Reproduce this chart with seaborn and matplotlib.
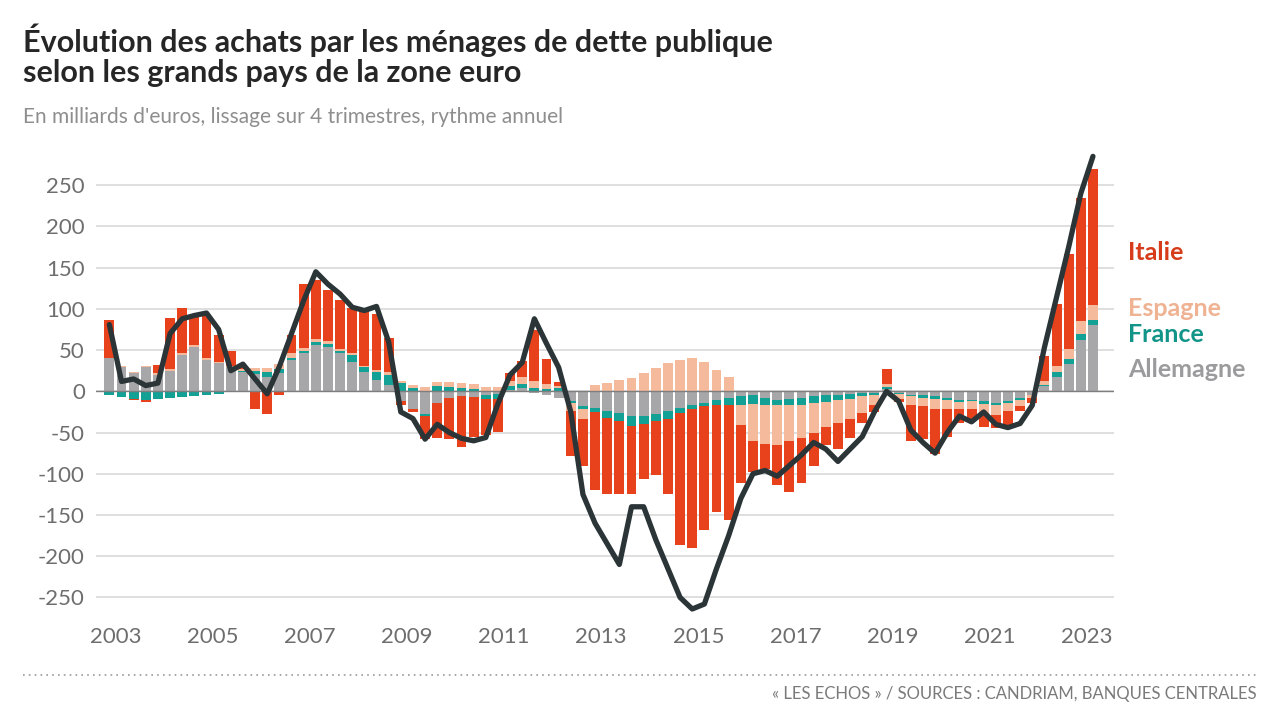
import numpy as np
import pandas as pd
import matplotlib
matplotlib.use("Agg")
import matplotlib.pyplot as plt
from matplotlib.lines import Line2D
import seaborn as sns

# ---------------- data (milliards d'euros, lissage 4 trimestres) ----------------
quarters = pd.period_range("2002Q4", "2023Q1", freq="Q")

allemagne = [40, 30, 22, 30, 20, 25, 44, 54, 38, 34,
             29, 24, 21, 17, 22, 38, 46, 56, 54, 46,
             36, 24, 14, 8, -12, -22, -28, -14, -8, -6,
             -7, -5, -3, 2, 4, -2, -4, -8, -12, -18,
             -20, -24, -26, -30, -30, -28, -24, -20, -16, -14,
             -10, -8, -6, -5, -8, -10, -9, -8, -6, -5,
             -4, -3, -2, -2, 3, -2, -4, -5, -6, -8,
             -10, -10, -12, -14, -12, -8, -4, 6, 18, 33,
             62, 80]

france = [-5, -7, -9, -10, -9, -8, -7, -6, -5, -3,
          -1, 1, 4, 6, 5, 3, 3, 4, 4, 3,
          8, 5, 10, 12, 10, 4, -2, 6, 5, 4,
          3, -4, -6, 4, 5, 4, 3, 4, -2, -4,
          -5, -8, -10, -12, -10, -8, -10, -6, -6, -4,
          -6, -8, -10, -10, -8, -7, -7, -8, -8, -8,
          -6, -6, -4, -3, 2, -1, -2, -3, -3, -3,
          -3, -2, -3, -3, -2, -2, 1, 2, 5, 6,
          8, 7]

espagne = [0, 1, 1, 1, 2, 2, 2, 2, 3, 2,
           2, 2, 3, 5, 6, 5, 3, 3, 3, 2,
           2, 2, 2, 3, 3, 4, 5, 5, 6, 6,
           6, 5, 5, 6, 8, 8, 6, 3, -10, -12,
           8, 10, 14, 16, 22, 28, 34, 38, 40, 36,
           26, 18, -25, -45, -48, -48, -44, -40, -36, -30,
           -28, -25, -20, -12, 4, -6, -10, -10, -12, -10,
           -8, -10, -12, -12, -10, -8, -4, 5, 8, 12,
           15, 18]

italie = [46, 0, -2, -3, 10, 62, 55, 35, 50, 32,
          18, 4, -21, -27, -4, 22, 78, 72, 62, 60,
          55, 66, 68, 42, -5, -3, -28, -42, -50, -62,
          -48, -44, -40, 10, 20, 62, 30, 4, -55, -56,
          -95, -92, -88, -82, -66, -66, -90, -160, -168, -150,
          -130, -140, -70, -38, -30, -48, -62, -55, -40, -22,
          -32, -22, -12, -8, 18, -4, -44, -40, -55, -34,
          -18, -14, -16, -16, -20, -6, -6, 30, 75, 115,
          150, 165]

total = [81, 12, 15, 7, 10, 70, 88, 92, 95, 75,
         25, 33, 15, -3, 30, 70, 110, 145, 130, 118,
         102, 98, 103, 60, -25, -33, -58, -40, -50, -57,
         -60, -56, -15, 20, 35, 88, 58, 29, -25, -125,
         -160, -185, -210, -140, -140, -180, -215, -250, -264, -258,
         -215, -175, -130, -100, -96, -103, -90, -77, -62, -70,
         -85, -70, -55, -25, 0, -12, -47, -62, -75, -50,
         -30, -37, -25, -40, -44, -39, -17, 53, 114, 175,
         240, 285]

countries = ["Allemagne", "France", "Espagne", "Italie"]
y_ticks = list(range(-250, 251, 50))
x_ticks = list(range(2003, 2024, 2))

title = ("Évolution des achats par les ménages de dette publique\n"
         "selon les grands pays de la zone euro")
subtitle = "En milliards d'euros, lissage sur 4 trimestres, rythme annuel"
source = "« LES ECHOS » / SOURCES : CANDRIAM, BANQUES CENTRALES"

# ---------------- style ----------------
bar_colors = {"Allemagne": "#a7a7a9", "France": "#13a095",
              "Espagne": "#f5ba9b", "Italie": "#e8421c"}
text_colors = {"Allemagne": "#9b9b9d", "France": "#129488",
               "Espagne": "#efb292", "Italie": "#d63c1a"}
label_pos = {"Italie": 169, "Espagne": 101, "France": 69, "Allemagne": 27}

sns.set_theme(style="white")
plt.rcParams["font.family"] = ["Lato", "DejaVu Sans"]
plt.rcParams["axes.unicode_minus"] = False

df = pd.DataFrame({"Allemagne": allemagne, "France": france,
                   "Espagne": espagne, "Italie": italie, "total": total})
df["x"] = quarters.year + (quarters.quarter - 0.5) / 4.0

fig = plt.figure(figsize=(12.8, 7.2), dpi=100)
fig.patch.set_facecolor("white")
ax = fig.add_axes([0.075, 0.145, 0.795, 0.655])

pos_bottom = np.zeros(len(df))
neg_bottom = np.zeros(len(df))
for c in countries:
    v = df[c].to_numpy(dtype=float)
    p = np.clip(v, 0, None)
    n = np.clip(v, None, 0)
    ax.bar(df["x"], p, width=0.205, bottom=pos_bottom, color=bar_colors[c],
           linewidth=0, zorder=2)
    ax.bar(df["x"], n, width=0.205, bottom=neg_bottom, color=bar_colors[c],
           linewidth=0, zorder=2)
    pos_bottom += p
    neg_bottom += n

ax.axhline(0, color="#7e7e7e", lw=1.0, zorder=3)

sns.lineplot(data=df, x="x", y="total", ax=ax, color="#2b3538", lw=3.8,
             zorder=4, solid_joinstyle="round", solid_capstyle="round")

ax.set_xlim(2002.6, 2023.55)
ax.set_ylim(-272, 300)
ax.set_yticks(y_ticks)
ax.set_xticks(x_ticks)
ax.set_xlabel("")
ax.set_ylabel("")
ax.grid(axis="y", color="#d6d6d6", lw=1.1, zorder=0)
ax.grid(axis="x", visible=False)
for s in ax.spines.values():
    s.set_visible(False)
ax.tick_params(axis="both", length=0, labelsize=16, colors="#6e6e6e", pad=8)

for c in countries:
    ax.text(2023.85, label_pos[c], c, color=text_colors[c], fontsize=18,
            fontweight="bold", va="center", ha="left", clip_on=False)

fig.text(0.018, 0.968, title, fontsize=22, fontweight="bold", color="#262626",
         va="top", ha="left", linespacing=1.12)
fig.text(0.018, 0.852, subtitle, fontsize=15, color="#8e8e8e",
         va="top", ha="left")

fig.add_artist(Line2D([0.018, 0.982], [0.062, 0.062], transform=fig.transFigure,
                      color="#9a9a9a", lw=1.2, linestyle=(0, (1, 2.5))))
fig.text(0.982, 0.025, source, fontsize=12, color="#7a7a7a",
         ha="right", va="bottom")

fig.savefig("out.png", dpi=100, facecolor="white")
